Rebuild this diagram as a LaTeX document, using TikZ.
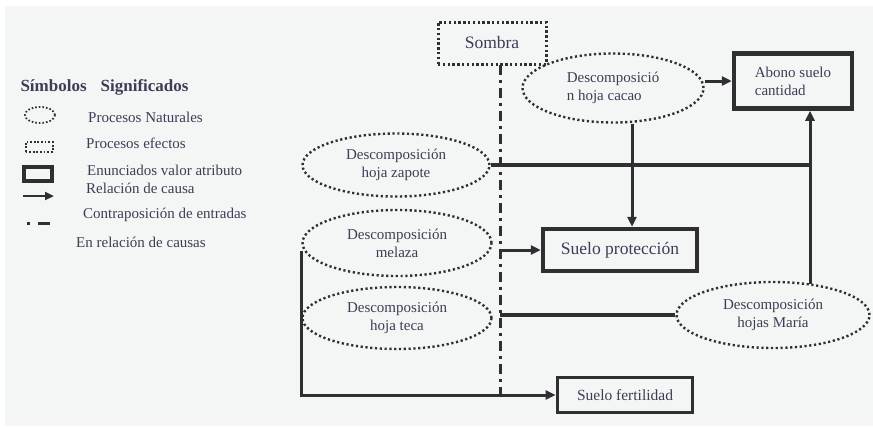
\documentclass[tikz,border=0pt]{standalone}
\usepackage{fontspec}
\setmainfont{Liberation Serif}
\usetikzlibrary{arrows.meta,shapes.geometric}
\definecolor{fondo}{HTML}{F4F6F5}
\definecolor{tinta}{HTML}{2F2F33}
\definecolor{letra}{HTML}{3B3E54}
\begin{document}
\begin{tikzpicture}[x=1pt,y=-1pt,
  texto/.style={text=letra,font=\fontsize{15}{18}\selectfont},
  proceso/.style={ellipse,draw=tinta,line width=2.4pt,dash pattern=on 2.2pt off 2.6pt,inner sep=0pt,texto,align=center},
  efecto/.style={rectangle,draw=tinta,line width=3pt,dash pattern=on 2.4pt off 2.4pt,texto},
  atributo/.style={rectangle,draw=tinta,line width=4.5pt,texto},
  causa/.style={draw=tinta,line width=3pt,-{Triangle[length=10pt,width=9pt]}},
  linea/.style={draw=tinta,line width=3.4pt},
  contra/.style={draw=tinta,line width=3pt,dash pattern=on 10pt off 5pt on 3pt off 5pt}]
\useasboundingbox (0,0) rectangle (873,426);
\fill[fondo] (5,6) rectangle (873,426);

% legend
\node[anchor=west,text=letra,font=\fontsize{17}{20}\selectfont\bfseries] (titulo) at (17,87) {Símbolos\hspace{14pt}Significados};
\node[proceso,line width=1.8pt,dash pattern=on 1.6pt off 2pt,minimum width=30pt,minimum height=16pt] (s1) at (40,115) {};
\node[efecto,line width=2pt,dash pattern=on 1.8pt off 1.8pt,minimum width=27pt,minimum height=10pt,inner sep=0pt] (s2) at (39,147) {};
\node[atributo,minimum width=28pt,minimum height=14pt,inner sep=0pt] (s3) at (38,174) {};
\coordinate (s4a) at (23,196); \coordinate (s4b) at (54,196);
\draw[causa,line width=2.4pt,-{Triangle[length=9pt,width=8pt]}] (s4a) -- (s4b);
\coordinate (s5a) at (27,223); \coordinate (s5b) at (51,223);
\draw[contra,dash pattern=on 3pt off 8pt on 12pt off 5pt] (s5a) -- (s5b);
\foreach \n/\x/\y/\lab in {t1/88/117/{Procesos Naturales},t2/86/143/{Procesos efectos},
  t3/87/170/{Enunciados valor atributo},t4/86/188/{Relación de causa},
  t5/83/215/{Contraposición de entradas},t6/76/242/{En relación de causas}}{
  \node[texto,anchor=west,inner sep=0pt] (\n) at (\x,\y) {\lab};
}

% diagram
\node[efecto,minimum width=108pt,minimum height=42pt,font=\fontsize{17.5}{20}\selectfont] (sombra) at (492,43) {Sombra};
\coordinate (ejeA) at (500,65);
\coordinate (ejeB) at (500,400);
\draw[contra] (ejeA) -- (ejeB);

\node[proceso,minimum width=181pt,minimum height=69pt,align=left] (cacao) at (613,88) {Descomposició\\n hoja cacao};
\node[atributo,minimum width=118pt,minimum height=55pt,align=left] (abono) at (793,81) {Abono suelo\\cantidad};
\node[proceso,minimum width=187pt,minimum height=63pt] (zapote) at (396,165) {Descomposición\\hoja zapote};
\node[proceso,minimum width=189pt,minimum height=66pt] (melaza) at (397,243) {Descomposición\\melaza};
\node[proceso,minimum width=189pt,minimum height=62pt] (teca) at (397,318) {Descomposición\\hoja teca};
\node[atributo,minimum width=154pt,minimum height=42pt,font=\fontsize{17.5}{20}\selectfont] (proteccion) at (620,250) {Suelo protección};
\node[proceso,minimum width=193pt,minimum height=66pt] (maria) at (773,315) {Descomposición\\hojas María};
\node[atributo,line width=3.8pt,minimum width=135pt,minimum height=35pt,font=\fontsize{15.5}{18}\selectfont] (fertilidad) at (625,395) {Suelo fertilidad};

\coordinate (subida) at (810,284);
\draw[causa] (cacao.east |- abono.west) -- (abono.west);
\draw[causa] ([xshift=12pt]proteccion.north |- cacao.south) -- ([xshift=12pt]proteccion.north);
\draw[linea] (zapote.east) -- (zapote.east -| subida);
\draw[causa] (subida) -- (subida |- abono.south);
\draw[causa] (proteccion.west -| ejeA) -- (proteccion.west);
\draw[linea] (maria.west -| ejeA) -- (maria.west);
\draw[causa] ([yshift=-8pt]melaza.west) |- (fertilidad.west);
\end{tikzpicture}
\end{document}
